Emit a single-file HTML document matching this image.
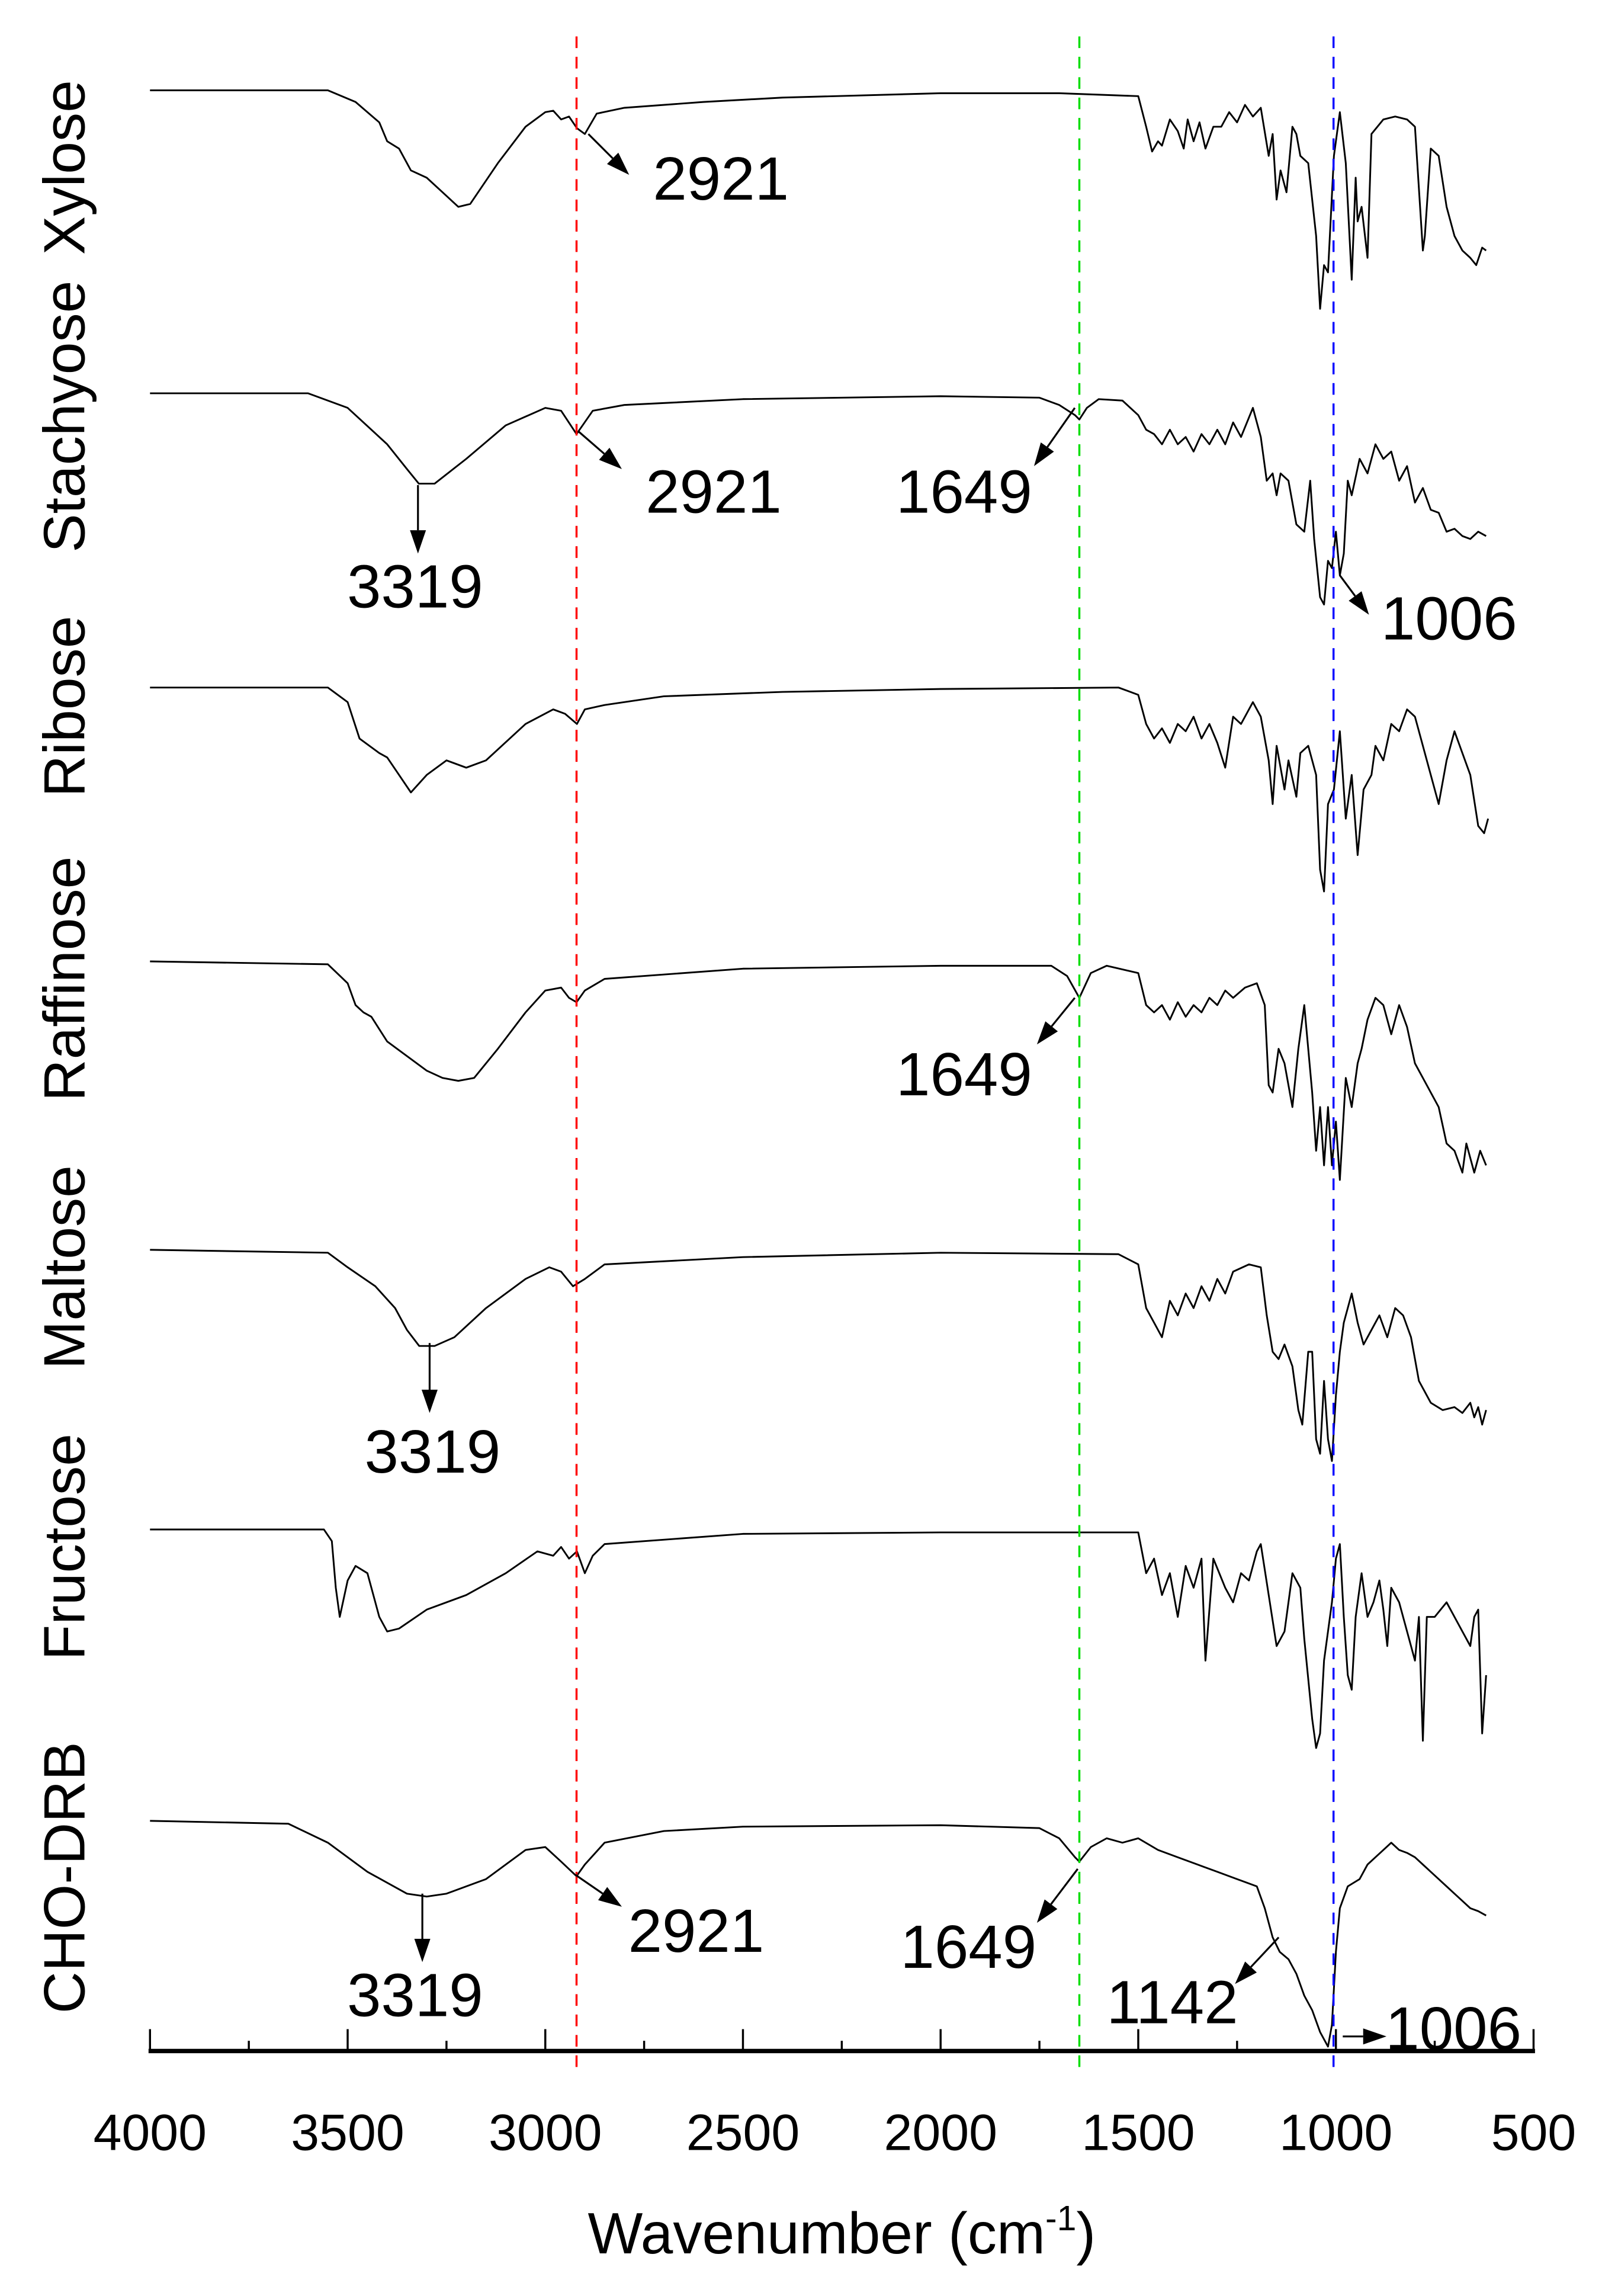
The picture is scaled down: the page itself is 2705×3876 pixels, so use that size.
<!DOCTYPE html>
<html><head><meta charset="utf-8"><style>
html,body{margin:0;padding:0;background:#fff;}
svg{display:block;}
text{font-family:"Liberation Sans",sans-serif;fill:#000;}
</style></head><body>
<svg id="chart" width="2705" height="3876" viewBox="0 0 1100 1576.2" preserveAspectRatio="none" xmlns="http://www.w3.org/2000/svg">
<g id="plot"></g>
</svg>
<script>
const NS='http://www.w3.org/2000/svg';
const names=['Xylose','Stachyose','Ribose','Raffinose','Maltose','Fructose','CHO-DRB'];
const baselines=[62,270,472,660,858,1050,1250];
const labelCenters=[115,286,485,672,870,1062,1289];
const xTicks=[4000,3500,3000,2500,2000,1500,1000,500];
const refLines=[2921,1649,1006];
const refColors=['#ff0000','#00dd00','#0000ff'];
const sXylose=[[4000,0],[3550,0],[3480,8],[3420,22],[3400,35],[3370,40],[3340,55],[3300,60],[3260,70],[3220,80],[3190,78],[3120,50],[3050,25],[3000,15],[2980,14],[2960,20],[2940,18],[2920,26],[2900,30],[2870,16],[2800,12],[2600,8],[2400,5],[2000,2],[1700,2],[1500,4],[1480,25],[1465,42],[1450,35],[1440,38],[1420,20],[1400,28],[1385,40],[1375,20],[1360,35],[1345,22],[1330,40],[1310,25],[1290,25],[1270,15],[1250,22],[1230,10],[1210,18],[1190,12],[1170,45],[1160,30],[1150,75],[1140,55],[1125,70],[1110,25],[1100,30],[1090,45],[1070,50],[1050,100],[1040,150],[1030,120],[1020,125],[1005,45],[990,15],[975,50],[960,130],[950,60],[945,90],[935,80],[920,115],[910,30],[880,20],[850,18],[820,20],[800,25],[780,110],[775,100],[760,40],[740,45],[720,80],[700,100],[680,110],[660,115],[645,120],[630,108],[620,110]];
const sStachyose=[[4000,0],[3600,0],[3500,10],[3400,35],[3350,52],[3320,62],[3280,62],[3200,45],[3100,22],[3000,10],[2960,12],[2921,28],[2880,12],[2800,8],[2500,4],[2000,2],[1750,3],[1700,8],[1660,15],[1649,18],[1630,10],[1600,4],[1540,5],[1500,15],[1480,25],[1460,28],[1440,35],[1420,25],[1400,35],[1380,30],[1360,40],[1340,28],[1320,35],[1300,25],[1280,35],[1260,20],[1240,30],[1210,10],[1190,30],[1175,60],[1160,55],[1150,70],[1140,55],[1120,60],[1100,90],[1080,95],[1065,60],[1055,100],[1040,140],[1030,145],[1020,115],[1010,120],[1000,95],[990,125],[980,110],[970,60],[960,70],[940,45],[920,55],[900,35],[880,45],[860,40],[840,60],[820,50],[800,75],[780,65],[760,80],[740,82],[720,95],[700,93],[680,98],[660,100],[640,95],[620,98]];
const sRibose=[[4000,0],[3550,0],[3500,10],[3470,35],[3420,45],[3400,48],[3370,60],[3340,72],[3300,60],[3250,50],[3200,55],[3150,50],[3050,25],[2980,15],[2950,18],[2920,25],[2900,15],[2850,12],[2700,6],[2400,3],[2000,1],[1550,0],[1500,5],[1480,25],[1460,35],[1440,28],[1420,38],[1400,25],[1380,30],[1360,20],[1340,35],[1320,25],[1300,38],[1280,55],[1260,20],[1240,25],[1210,10],[1190,20],[1170,50],[1160,80],[1150,40],[1130,70],[1120,50],[1100,75],[1090,45],[1070,40],[1050,60],[1040,125],[1030,140],[1020,80],[1005,70],[990,30],[975,90],[960,60],[945,115],[930,70],[910,60],[900,40],[880,50],[860,25],[840,30],[820,15],[800,20],[780,40],[760,60],[740,80],[720,50],[700,30],[680,45],[660,60],[640,95],[625,100],[615,90]];
const sRaffinose=[[4000,0],[3550,2],[3500,15],[3480,30],[3460,35],[3440,38],[3400,55],[3350,65],[3300,75],[3260,80],[3220,82],[3180,80],[3120,60],[3050,35],[3000,20],[2960,18],[2940,25],[2921,28],[2900,20],[2850,12],[2500,5],[2000,3],[1720,3],[1680,10],[1649,25],[1620,8],[1580,3],[1500,8],[1480,30],[1460,35],[1440,30],[1420,40],[1400,28],[1380,38],[1360,30],[1340,35],[1320,25],[1300,30],[1280,20],[1260,25],[1230,18],[1200,15],[1180,30],[1170,85],[1160,90],[1145,60],[1130,70],[1110,100],[1095,60],[1080,30],[1060,90],[1050,130],[1040,100],[1030,140],[1020,100],[1010,140],[1000,110],[990,150],[975,80],[960,100],[945,70],[935,60],[920,40],[900,25],[880,30],[860,50],[840,30],[820,45],[800,70],[780,80],[760,90],[740,100],[720,125],[700,130],[680,145],[670,125],[650,145],[635,130],[620,140]];
const sMaltose=[[4000,0],[3550,2],[3500,12],[3430,25],[3380,40],[3350,55],[3319,66],[3280,66],[3230,60],[3150,40],[3050,20],[2990,12],[2960,15],[2930,25],[2900,20],[2850,10],[2500,5],[2000,2],[1550,3],[1500,10],[1480,40],[1460,50],[1440,60],[1420,35],[1400,45],[1380,30],[1360,40],[1340,25],[1320,35],[1300,20],[1280,30],[1260,15],[1220,10],[1190,12],[1175,45],[1160,70],[1145,75],[1130,65],[1110,80],[1095,110],[1085,120],[1070,70],[1060,70],[1050,130],[1040,140],[1030,90],[1020,130],[1010,145],[1000,100],[990,70],[980,50],[960,30],[945,50],[930,65],[910,55],[890,45],[870,60],[850,40],[830,45],[810,60],[790,90],[760,105],[730,110],[700,108],[680,112],[660,105],[650,115],[640,108],[630,120],[620,110]];
const sFructose=[[4000,0],[3560,0],[3540,8],[3530,40],[3520,60],[3500,35],[3480,25],[3450,30],[3420,60],[3400,70],[3370,68],[3300,55],[3200,45],[3100,30],[3020,15],[2980,18],[2960,12],[2940,20],[2920,15],[2900,30],[2880,18],[2850,10],[2500,3],[2000,2],[1500,2],[1480,30],[1460,20],[1440,45],[1420,30],[1400,60],[1380,25],[1360,40],[1340,20],[1330,90],[1310,20],[1280,40],[1260,50],[1240,30],[1220,35],[1200,15],[1190,10],[1170,45],[1150,80],[1130,70],[1110,30],[1090,40],[1080,75],[1060,130],[1050,150],[1040,140],[1030,90],[1010,50],[1000,20],[990,10],[980,60],[970,100],[960,110],[950,60],[935,30],[920,60],[905,50],[890,35],[880,55],[870,80],[860,40],[840,50],[820,70],[800,90],[790,60],[780,145],[770,60],[750,60],[720,50],[700,60],[680,70],[660,80],[650,60],[640,55],[630,140],[620,100]];
const sCHO=[[4000,0],[3650,2],[3550,15],[3450,35],[3350,50],[3300,52],[3250,50],[3150,40],[3050,20],[3000,18],[2960,28],[2921,38],[2900,30],[2850,15],[2700,7],[2500,4],[2000,3],[1750,5],[1700,12],[1660,25],[1649,28],[1620,18],[1580,12],[1540,15],[1500,12],[1450,20],[1400,25],[1350,30],[1300,35],[1250,40],[1200,45],[1180,60],[1160,80],[1142,90],[1120,95],[1100,105],[1080,120],[1060,130],[1040,145],[1030,150],[1020,155],[1010,140],[1000,90],[990,60],[970,45],[940,40],[920,30],[900,25],[880,20],[860,15],[840,20],[820,22],[800,25],[780,30],[760,35],[740,40],[720,45],[700,50],[680,55],[660,60],[640,62],[620,65]];
const series=[sXylose,sStachyose,sRibose,sRaffinose,sMaltose,sFructose,sCHO];
const annTexts=['2921','2921','3319','1649','1006','1649','3319','3319','2921','1649','1142','1006'];
const annGeom=[[404,92,432,120,495,137],[397,296,427,322,490,352],[287,333,287,380,285,417],[738,280,710,320,662,352],[920,395,940,422,995,439],[738,685,712,717,662,752],[295,922,295,970,297,1011],[290,1300,290,1347,285,1384],[395,1287,427,1309,478,1340],[740,1283,712,1320,665,1351],[878,1330,848,1362,805,1389],[922,1398,952,1398,998,1407]];

const X0=103,X1=1053,AXY=1408;
function xs(w){return X0+(4000-w)/3500*(X1-X0);}
function ys(i,v){return baselines[i]+v;}
const g=document.getElementById('plot');
function el(t,a,p){const e=document.createElementNS(NS,t);for(const k in a)e.setAttribute(k,a[k]);(p||g).appendChild(e);return e;}

series.forEach((s,i)=>{
  const d=s.map((p,j)=>(j?'L':'M')+xs(p[0]).toFixed(2)+','+ys(i,p[1]).toFixed(2)).join(' ');
  const e=el('path',{d:d,fill:'none',stroke:'#000','stroke-width':1.2,'stroke-linejoin':'round'});
  
  
  const t=el('text',{x:0,y:0,'font-size':40,'text-anchor':'middle',transform:'translate(58,'+labelCenters[i]+') rotate(-90)'});
  t.textContent=names[i];
  
  
});
refLines.forEach((w,i)=>{
  const e=el('line',{x1:xs(w),x2:xs(w),y1:25,y2:AXY+14,stroke:refColors[i],'stroke-width':1.4,'stroke-dasharray':'8,6'});
  
  
});
const ax=el('line',{x1:X0-1,x2:X1+1,y1:AXY,y2:AXY,stroke:'#000','stroke-width':3});


for(let w=4000;w>=500;w-=250){
  const major=w%500===0;
  const t=el('line',{x1:xs(w),x2:xs(w),y1:AXY,y2:AXY-(major?15:7),stroke:'#000','stroke-width':1.4});
  
  
}
xTicks.forEach(w=>{
  const t=el('text',{x:xs(w),y:1476,'font-size':35,'text-anchor':'middle'});
  t.textContent=w;
  
  
});
const ttl=el('text',{x:578,y:1547,'font-size':40,'text-anchor':'middle'});
ttl.innerHTML='Wavenumber (cm<tspan dy="-16" font-size="24">-1</tspan><tspan dy="16">)</tspan>';


annGeom.forEach((a,i)=>{
  const dx=a[2]-a[0],dy=a[3]-a[1],L=Math.hypot(dx,dy),ux=dx/L,uy=dy/L;
  const hl=16,hw=5.5;
  const bx=a[2]-ux*hl,by=a[3]-uy*hl;
  const l=el('line',{x1:a[0],y1:a[1],x2:bx,y2:by,stroke:'#000','stroke-width':1.3});
  
  
  const pts=[[a[2],a[3]],[bx-uy*hw,by+ux*hw],[bx+uy*hw,by-ux*hw]].map(p=>p[0].toFixed(2)+','+p[1].toFixed(2)).join(' ');
  const h=el('polygon',{points:pts,fill:'#000'});
  
  
  const t=el('text',{x:a[4],y:a[5],'font-size':42,'text-anchor':'middle'});
  t.textContent=annTexts[i];
  
  
});
</script>
</body></html>
